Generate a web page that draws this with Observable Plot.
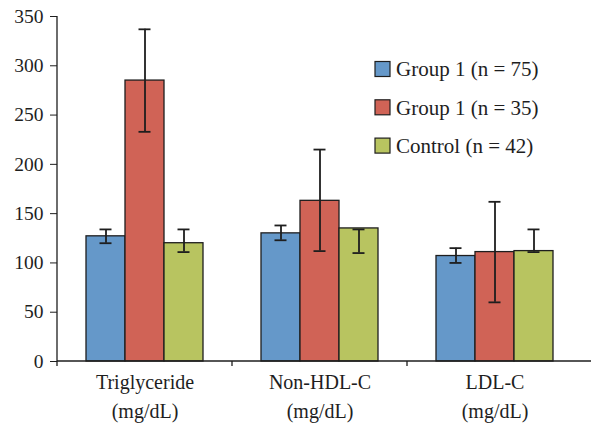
<!DOCTYPE html>
<html>
<head>
<meta charset="utf-8">
<script src="https://cdn.jsdelivr.net/npm/d3@7"></script>
<script src="https://cdn.jsdelivr.net/npm/@observablehq/plot@0.6"></script>
<style>
  html, body { margin: 0; padding: 0; background: #fff; }
  #chart { width: 591px; height: 424px; }
</style>
</head>
<body>
<div id="chart"></div>
<script>
// ---- data ----
const categories = ["Triglyceride\n(mg/dL)", "Non-HDL-C\n(mg/dL)", "LDL-C\n(mg/dL)"];
const groups = ["Group 1 (n = 75)", "Group 1 (n = 35)", "Control (n = 42)"];
const colors = ["#6598c9", "#d06356", "#b8c460"];

const group75 = [127, 130, 107];
const group35 = [285, 163, 111];
const control = [120, 135, 112];

const group75Low = [120, 123, 100];
const group75High = [134, 138, 115];
const group35Low = [233, 112, 60];
const group35High = [337, 215, 162];
const controlLow = [111, 110, 111];
const controlHigh = [134, 134, 134];

const yTicks = [0, 50, 100, 150, 200, 250, 300, 350];

// ---- table built from arrays ----
const series = [
  [group75, group75Low, group75High],
  [group35, group35Low, group35High],
  [control, controlLow, controlHigh]
];
const rows = [];
categories.forEach((c, i) => {
  groups.forEach((g, j) => {
    rows.push({cat: c, group: g, value: series[j][0][i], lo: series[j][1][i], hi: series[j][2][i]});
  });
});

const font = "Liberation Serif, Times New Roman, serif";
const ink = "#1e1e1e";

const plot = Plot.plot({
  width: 591,
  height: 424,
  marginLeft: 57,
  marginRight: 9,
  marginTop: 16,
  marginBottom: 63,
  style: {fontFamily: font, fontSize: "18px", color: ink, background: "#fff"},
  fx: {domain: categories, padding: 0, label: null},
  x: {domain: groups, paddingInner: 0, paddingOuter: 0.73, axis: null},
  y: {domain: [0, 350], label: null},
  color: {domain: groups, range: colors},
  marks: [
    Plot.axisY({ticks: yTicks, tickSize: 7, tickPadding: 7, fontSize: 19.5, label: null, stroke: ink, fill: ink}),
    Plot.axisFx({anchor: "bottom", tickSize: 0, tickPadding: 6, fontSize: 20, lineHeight: 1.48, label: null, fill: ink}),
    Plot.barY(rows, {fx: "cat", x: "group", y: "value", fill: "group", stroke: ink, strokeWidth: 1.3}),
    Plot.ruleX(rows, {fx: "cat", x: "group", y1: "lo", y2: "hi", stroke: ink, strokeWidth: 1.8}),
    Plot.tickY(rows, {fx: "cat", x: "group", y: "lo", stroke: ink, strokeWidth: 1.8, insetLeft: 13.5, insetRight: 13.5}),
    Plot.tickY(rows, {fx: "cat", x: "group", y: "hi", stroke: ink, strokeWidth: 1.8, insetLeft: 13.5, insetRight: 13.5})
  ]
});

document.getElementById("chart").appendChild(plot);

// ---- axis lines, boundary ticks and legend drawn from the plot's scales ----
const svg = d3.select(plot);
const fx = plot.scale("fx");
const y = plot.scale("y");
const color = plot.scale("color");
const y0 = y.apply(0);
const yTop = y.apply(350);
const left = fx.apply(categories[0]);

const g = svg.append("g").attr("stroke", ink).attr("stroke-width", 1.3);
// y axis line
g.append("line").attr("x1", left).attr("x2", left).attr("y1", yTop).attr("y2", y0);
// baseline
g.append("line").attr("x1", left).attr("x2", 591).attr("y1", y0).attr("y2", y0);
// boundary ticks
categories.forEach(c => {
  const xx = fx.apply(c);
  g.append("line").attr("x1", xx).attr("x2", xx).attr("y1", y0).attr("y2", y0 + 5);
});

// legend
const leg = svg.append("g").attr("font-family", font).attr("font-size", 21)
  .attr("fill", ink).attr("text-anchor", "start");
groups.forEach((name, i) => {
  const cy = 69 + i * 38.3;
  leg.append("rect").attr("x", 375).attr("y", cy - 7.5).attr("width", 15).attr("height", 15)
    .attr("fill", color.apply(name)).attr("stroke", ink).attr("stroke-width", 1.2);
  leg.append("text").attr("x", 396).attr("y", cy).attr("dy", "0.35em").text(name);
});
</script>
</body>
</html>
